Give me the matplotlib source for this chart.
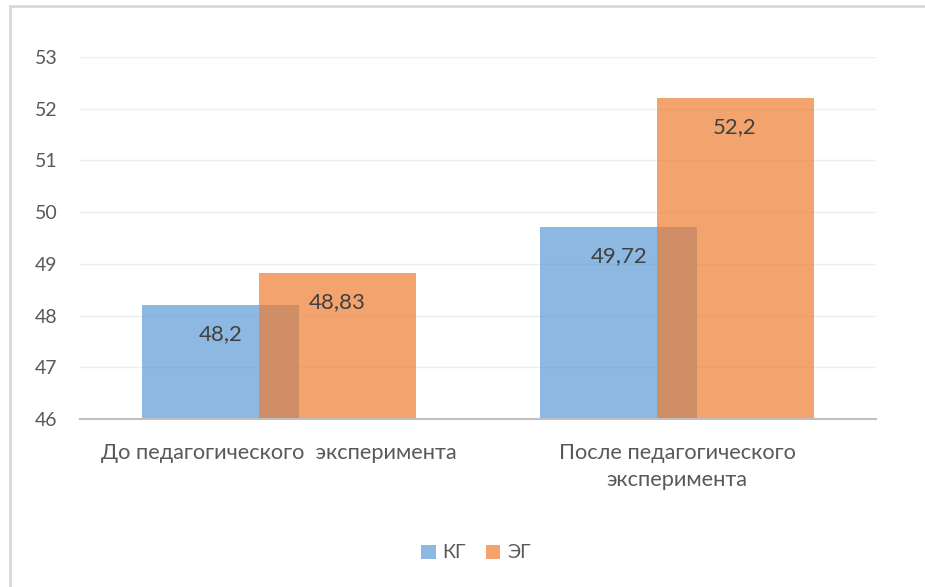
import numpy as np
import matplotlib
matplotlib.use("Agg")
import matplotlib.pyplot as plt
from matplotlib.lines import Line2D

plt.rcParams['font.family'] = ['Lato', 'DejaVu Sans']

# данные: средние баллы групп
categories = ['До педагогического  эксперимента',
              'После педагогического\nэксперимента']
kg_values = [48.2, 49.72]
eg_values = [48.83, 52.2]
kg_labels = ['48,2', '49,72']
eg_labels = ['48,83', '52,2']
series_names = ['КГ', 'ЭГ']
y_ticks = [46, 47, 48, 49, 50, 51, 52, 53]

c_kg = '#5B9BD5'
c_eg = '#ED7D31'
alpha = 0.7

fig = plt.figure(figsize=(9.25, 5.87), dpi=100)
ax = fig.add_axes([80/925, 1-419/587, 796/925, 362/587])

x = np.arange(len(categories))
w = 0.394
off = 0.146
base = y_ticks[0]

b1 = ax.bar(x - off, np.array(kg_values) - base, w, bottom=base,
            color=c_kg, alpha=alpha, label=series_names[0], zorder=2)
b2 = ax.bar(x + off, np.array(eg_values) - base, w, bottom=base,
            color=c_eg, alpha=alpha, label=series_names[1], zorder=3)

# подписи значений внутри столбцов, у вершины
for xi, v, t in zip(x - off, kg_values, kg_labels):
    ax.annotate(t, (xi, v), xytext=(0, -29), textcoords='offset pixels',
                ha='center', va='center', fontsize=16, color='#404040', zorder=5)
for xi, v, t in zip(x + off, eg_values, eg_labels):
    ax.annotate(t, (xi, v), xytext=(0, -29), textcoords='offset pixels',
                ha='center', va='center', fontsize=16, color='#404040', zorder=5)

ax.set_xlim(-0.5, 1.5)
ax.set_ylim(46, 53)
ax.set_yticks(y_ticks)
ax.set_xticks(x)
ax.set_xticklabels(categories, linespacing=1.45)
ax.tick_params(axis='y', length=0, pad=16, labelsize=14, labelcolor='#595959')
ax.tick_params(axis='x', length=0, pad=17, labelsize=15.7, labelcolor='#595959')

ax.grid(axis='y', color='#EDEDED', linewidth=1, zorder=0)
ax.set_axisbelow(True)
for s in ['top', 'right', 'left']:
    ax.spines[s].set_visible(False)
ax.spines['bottom'].set_color('#BFBFBF')
ax.spines['bottom'].set_linewidth(1.5)
ax.spines['bottom'].set_zorder(4)

leg = fig.legend(handles=[b1, b2], labels=series_names, loc='center',
                 bbox_to_anchor=(476/925, 1-553/587), ncol=2, frameon=False,
                 fontsize=14, handlelength=0.75, handleheight=0.75,
                 handletextpad=0.35, columnspacing=1.0)
for t in leg.get_texts():
    t.set_color('#595959')

# рамка области диаграммы
fig.add_artist(Line2D([10/925, 1], [1-5.5/587, 1-5.5/587], color='#D9D9D9', lw=2))
fig.add_artist(Line2D([10/925, 10/925], [0, 1-5.5/587], color='#D9D9D9', lw=2))

fig.savefig('out.png', dpi=100, facecolor='white')
